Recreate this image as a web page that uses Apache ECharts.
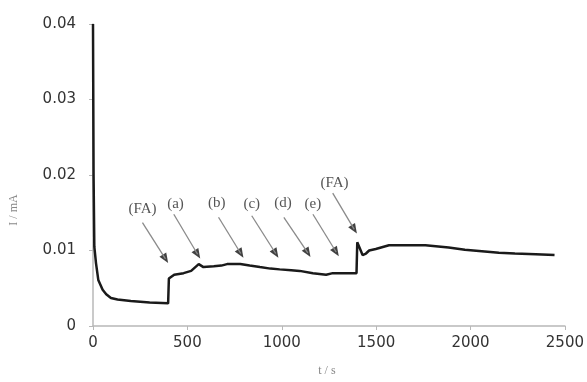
<!DOCTYPE html>
<html>
<head>
<meta charset="utf-8">
<script src="https://cdn.jsdelivr.net/npm/echarts@6/dist/echarts.min.js"></script>
<style>
  html, body { margin: 0; padding: 0; background: #fff; }
  #chart { width: 587px; height: 382px; }
</style>
</head>
<body>
<div id="chart"></div>
<script>
// t (s) and I (mA)
const timeS = [0, 3, 7, 16, 28, 51, 70, 95, 130, 200, 300, 398,
  402, 430, 480, 520, 560, 585, 640, 680, 710, 780, 830, 884, 940, 989,
  1050, 1095, 1165, 1235, 1270, 1305, 1396,
  1400, 1415, 1428, 1446, 1463, 1498, 1568, 1674, 1761, 1884, 1970,
  2060, 2150, 2235, 2345, 2445]
const currentMA = [0.04, 0.02, 0.0105, 0.0083, 0.0061, 0.0048, 0.0042, 0.0037, 0.0035, 0.0033, 0.0031, 0.0030,
  0.0063, 0.0068, 0.0070, 0.0073, 0.0082, 0.0078, 0.0079, 0.0080, 0.0082, 0.0082, 0.0080, 0.0078, 0.0076, 0.0075,
  0.0074, 0.0073, 0.0070, 0.0068, 0.0070, 0.0070, 0.0070,
  0.0111, 0.0102, 0.0094, 0.0096, 0.0100, 0.0102, 0.0107, 0.0107, 0.0107, 0.0104, 0.0101,
  0.0099, 0.0097, 0.0096, 0.0095, 0.0094]

// annotations: label, label position, arrow tail, arrow head (data coords)
const noteLabels = ['(FA)', '(a)', '(b)', '(c)', '(d)', '(e)', '(FA)']
const noteLabelPos = [[262, 0.0155], [437, 0.0161], [656, 0.0163], [841, 0.0161], [1007, 0.0163], [1165, 0.0161], [1279, 0.0189]]
const arrowFrom = [[262, 0.0137], [428, 0.0148], [665, 0.0144], [841, 0.0146], [1011, 0.0144], [1165, 0.0148], [1270, 0.0176]]
const arrowTo = [[384, 0.0089], [554, 0.0095], [783, 0.0096], [968, 0.0096], [1138, 0.0097], [1288, 0.0098], [1384, 0.0128]]

const xTicks = { min: 0, max: 2500, interval: 500 }
const yTicks = { min: 0, max: 0.04, interval: 0.01 }

const chart = echarts.init(document.getElementById('chart'))
const axisGray = '#b8b8b8'
const labelStyle = {
  color: '#333',
  fontFamily: 'DejaVu Sans, sans-serif',
  fontSize: 15
}
const noteFont = 'Liberation Serif, Times New Roman, serif'

chart.setOption({
  animation: false,
  grid: { left: 92, right: 20, top: 24, bottom: 51 },
  xAxis: {
    type: 'value',
    min: xTicks.min,
    max: xTicks.max,
    interval: xTicks.interval,
    name: 't / s',
    nameLocation: 'middle',
    nameGap: 39,
    nameTextStyle: { color: '#888', fontFamily: noteFont, fontSize: 12, padding: [0, 4, 0, 0] },
    axisLine: { lineStyle: { color: axisGray, width: 1.5 } },
    axisTick: { show: true, length: 4, lineStyle: { color: axisGray } },
    axisLabel: Object.assign({ margin: 10, formatter: v => String(v) }, labelStyle),
    splitLine: { show: false }
  },
  yAxis: {
    type: 'value',
    min: yTicks.min,
    max: yTicks.max,
    interval: yTicks.interval,
    name: 'I / mA',
    nameLocation: 'middle',
    nameGap: 73,
    nameTextStyle: { color: '#888', fontFamily: noteFont, fontSize: 12, padding: [0, 70, 0, 0] },
    axisLine: { show: true, lineStyle: { color: axisGray, width: 1.5 } },
    axisTick: { show: true, length: 4, lineStyle: { color: axisGray } },
    axisLabel: Object.assign({
      margin: 17,
      formatter: v => (v === 0 ? '0' : v.toFixed(2))
    }, labelStyle),
    splitLine: { show: false }
  },
  series: [{
    type: 'line',
    data: timeS.map((t, i) => [t, currentMA[i]]),
    showSymbol: false,
    lineStyle: { color: '#1a1a1a', width: 2.5 },
    z: 3,
    markLine: {
      silent: true,
      symbol: ['none', 'none'],
      label: { show: false },
      lineStyle: { color: '#8a8a8a', width: 1.3, type: 'solid' },
      data: arrowFrom.map((p, i) => [{ coord: p }, { coord: arrowTo[i] }])
    },
    markPoint: {
      silent: true,
      symbol: 'circle',
      symbolSize: 1,
      itemStyle: { color: 'transparent' },
      label: {
        show: true,
        position: 'inside',
        color: '#555',
        fontFamily: noteFont,
        fontSize: 15
      },
      data: noteLabels.map((s, i) => ({
        coord: noteLabelPos[i],
        value: s,
        label: { formatter: s }
      }))
    }
  }, {
    // arrow heads
    type: 'scatter',
    data: arrowTo,
    symbol: 'triangle',
    symbolSize: [8, 10],
    symbolRotate: -148,
    itemStyle: { color: '#111' },
    silent: true,
    z: 4
  }]
})
</script>
</body>
</html>
